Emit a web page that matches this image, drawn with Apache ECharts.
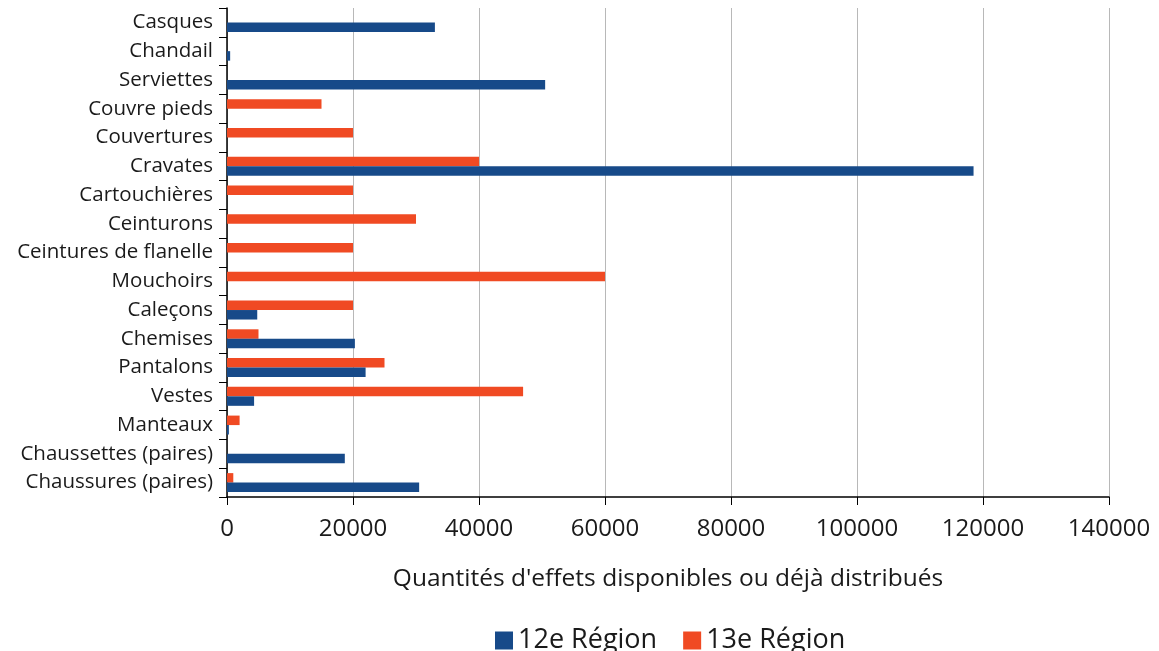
<!DOCTYPE html>
<html><head><meta charset="utf-8">
<script src="https://cdn.jsdelivr.net/npm/echarts@6/dist/echarts.min.js"></script>
<style>html,body{margin:0;padding:0;background:#fff}#c{width:1159px;height:651px}</style>
</head><body><div id="c"></div>
<script>
const categories = ["Casques","Chandail","Serviettes","Couvre pieds","Couvertures","Cravates","Cartouchières","Ceinturons","Ceintures de flanelle","Mouchoirs","Caleçons","Chemises","Pantalons","Vestes","Manteaux","Chaussettes (paires)","Chaussures (paires)"];
const region12 = [33000,500,50500,0,0,118500,0,0,0,0,4800,20300,22000,4300,300,18700,30500];
const region13 = [0,0,0,15000,20000,40000,20000,30000,20000,60000,20000,5000,25000,47000,2000,0,1000];
const seriesNames = ["12e Région","13e Région"];
const xTicks = {min:0,max:140000,interval:20000};
const axisTitle = "Quantités d'effets disponibles ou déjà distribués";

const chart = echarts.init(document.getElementById('c'));
const font = "'Open Sans', sans-serif";
chart.setOption({
  animation:false,
  textStyle:{fontFamily:font},
  grid:{left:227,right:50,top:8,bottom:154,containLabel:false},
  legend:{data:seriesNames,top:622,left:490,itemWidth:18,itemHeight:18,itemGap:26,
    textStyle:{fontSize:27,color:'#1a1a1a',fontFamily:font},icon:'rect'},
  xAxis:{type:'value',min:xTicks.min,max:xTicks.max,interval:xTicks.interval,
    name:axisTitle,nameLocation:'middle',nameGap:70,
    nameTextStyle:{fontSize:24.5,color:'#1a1a1a',fontFamily:font},
    axisLine:{show:true,lineStyle:{color:'#000',width:1.5}},
    axisTick:{show:true,length:8,lineStyle:{color:'#000'}},
    axisLabel:{fontSize:24,color:'#1a1a1a',margin:20,fontFamily:font,formatter:v=>String(v)},
    splitLine:{show:true,lineStyle:{color:'#b8b8b8'}}},
  yAxis:{type:'category',data:categories,inverse:true,
    axisLine:{show:true,lineStyle:{color:'#000',width:1.5}},
    axisTick:{show:true,length:8,lineStyle:{color:'#000'}},
    axisLabel:{fontSize:20.5,color:'#1a1a1a',margin:14,fontFamily:font},
    splitLine:{show:false}},
  series:[
    {name:seriesNames[1],type:'bar',data:region13,barWidth:9.5,barGap:'0%',itemStyle:{color:'#f04a23'}},
    {name:seriesNames[0],type:'bar',data:region12,barWidth:9.5,barGap:'0%',itemStyle:{color:'#174a89'}}
  ]
});
</script></body></html>
